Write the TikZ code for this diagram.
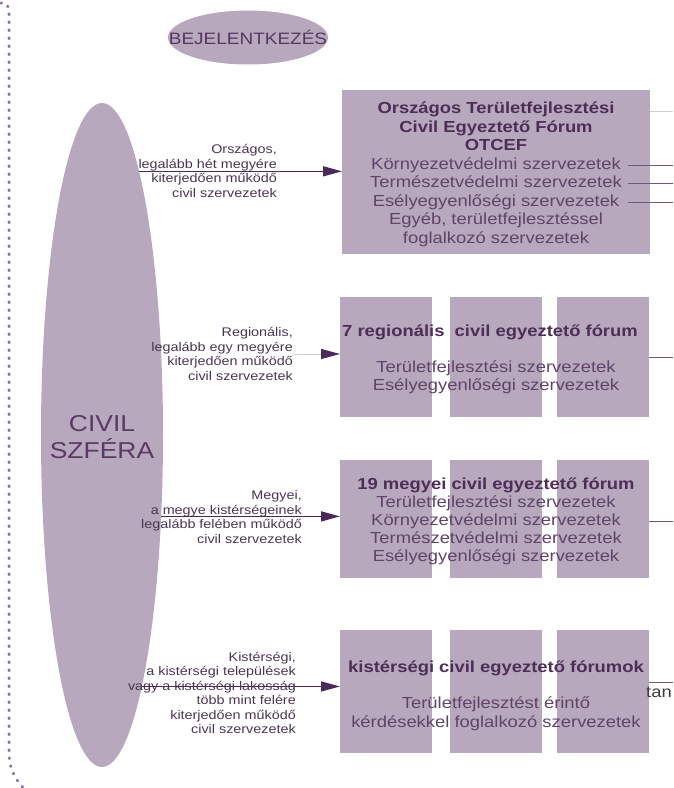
\documentclass[tikz,border=0pt]{standalone}
\usepackage{fontspec}
\setmainfont{Liberation Sans}[FakeStretch=1.15]
\usetikzlibrary{shapes.geometric,arrows.meta,calc}
\definecolor{mauve}{RGB}{183,168,189}
\definecolor{txtc}{RGB}{95,68,105}
\definecolor{ttlc}{RGB}{76,46,86}
\definecolor{lblc}{RGB}{72,55,82}
\definecolor{arrc}{RGB}{75,40,90}
\definecolor{dotc}{RGB}{140,110,168}
\definecolor{thinc}{RGB}{110,90,118}
\definecolor{faintc}{RGB}{212,205,215}
\newcommand{\tl}[1]{\textbf{\color{ttlc}#1}}
\begin{document}
\begin{tikzpicture}[x=1pt,y=-1pt,
  blk/.style={rectangle,fill=mauve,draw=none,inner sep=0pt,outer sep=0pt,minimum width=92pt,minimum height=#1},
  boxtext/.style={align=center,text=txtc,inner sep=0pt,font=\fontsize{16}{18.5}\selectfont},
  lbl/.style={anchor=east,align=right,text=lblc,inner sep=0pt,font=\fontsize{12.5}{14.5}\selectfont},
  arrline/.style={draw=arrc,line width=1.3pt,-{Triangle[length=19pt,width=10pt]}},
  thinline/.style={draw=thinc,line width=0.8pt},
  frame/.style={draw=dotc,line width=3pt,line cap=round,dash pattern=on 0.6pt off 7.4pt}]
\useasboundingbox (0,0) rectangle (673,788);

% dotted frame
\draw[frame] (1,3) .. controls (7,2) and (9,6) .. (9,14) -- (9,752) .. controls (9,770) and (16,782) .. (30,794);

% ellipses
\node[ellipse,fill=mauve,inner sep=0pt,outer sep=0pt,minimum width=160pt,minimum height=54pt] (bej) at (248,37.5) {};
\node[inner sep=0pt,text={rgb,255:red,85;green,55;blue,95},font=\fontsize{16.5}{19}\selectfont] (bejt) at (bej.center) {BEJELENTKEZÉS};
\node[ellipse,fill=mauve,inner sep=0pt,outer sep=0pt,minimum width=122pt,minimum height=664pt] (civ) at (102,435) {};
\node[inner sep=0pt,text={rgb,255:red,90;green,58;blue,100},align=center,font=\fontsize{23}{27}\selectfont] (civt) at (102,437) {CIVIL\\SZFÉRA};

% row 1
\node[blk=164pt,minimum width=308pt] (b1) at (496,172) {};
\node[boxtext] (t1) at (496,174.5) {\tl{Országos Területfejlesztési}\\\tl{Civil Egyeztető Fórum}\\\tl{OTCEF}\\
  Környezetvédelmi szervezetek\\Természetvédelmi szervezetek\\Esélyegyenlőségi szervezetek\\
  Egyéb, területfejlesztéssel\\foglalkozó szervezetek};

% row 2
\node[blk=120pt] (b2a) at (386,357) {};
\node[blk=120pt] (b2b) at (496,357) {};
\node[blk=120pt] (b2c) at (603,357) {};
\node[boxtext] (t2a) at (490,332) {\tl{7 regionális\ \ civil egyeztető fórum}};
\node[boxtext] (t2b) at (496,377.5) {Területfejlesztési szervezetek\\Esélyegyenlőségi szervezetek};

% row 3
\node[blk=118pt] (b3a) at (386,519) {};
\node[blk=118pt] (b3b) at (496,519) {};
\node[blk=118pt] (b3c) at (603,519) {};
\node[boxtext,font=\fontsize{16}{18}\selectfont] (t3) at (496,521) {\tl{19 megyei civil egyeztető fórum}\\Területfejlesztési szervezetek\\
  Környezetvédelmi szervezetek\\Természetvédelmi szervezetek\\Esélyegyenlőségi szervezetek};

% row 4
\node[blk=123pt] (b4a) at (386,691.5) {};
\node[blk=123pt] (b4b) at (496,691.5) {};
\node[blk=123pt] (b4c) at (603,691.5) {};
\node[boxtext] (t4a) at (496,668) {\tl{kistérségi civil egyeztető fórumok}};
\node[boxtext] (t4b) at (496,714) {Területfejlesztést érintő\\kérdésekkel foglalkozó szervezetek};

% labels
\node[lbl] (l1) at (277,171) {Országos,\\legalább hét megyére\\kiterjedően működő\\civil szervezetek};
\node[lbl] (l2) at (293,354) {Regionális,\\legalább egy megyére\\kiterjedően működő\\civil szervezetek};
\node[lbl] (l3) at (302,517) {Megyei,\\a megye kistérségeinek\\legalább felében működő\\civil szervezetek};
\node[lbl] (l4) at (296,693) {Kistérségi,\\a kistérségi települések\\vagy a kistérségi lakosság\\több mint felére\\kiterjedően működő\\civil szervezetek};

% arrows
\draw[arrline] (civ.82.19) -- (civ.82.19 -| b1.west);
\coordinate (c2) at (294,354);
\draw[draw=faintc,line width=1pt,-{Triangle[length=19pt,width=10pt,color=arrc]}] (c2) -- (c2 -| b2a.west);
\draw[arrline] (civ.-54.57) -- (civ.-54.57 -| b3a.west);
\draw[arrline] (civ.-81.37) -- (civ.-81.37 -| b4a.west);

% right-side lines
\coordinate (r1a) at (628,165);
\coordinate (r1b) at (628,183);
\coordinate (r1c) at (628,202);
\coordinate (redge) at (673,0);
\draw[draw=faintc,line width=0.8pt] ([yshift=61pt]b1.east) -- ([yshift=61pt]b1.east -| redge);
\draw[thinline] (r1a) -- (r1a -| redge);
\draw[thinline] (r1b) -- (r1b -| redge);
\draw[thinline] (r1c) -- (r1c -| redge);
\draw[thinline] (b2c.east) -- (b2c.east -| redge);
\draw[thinline] ([yshift=-2pt]b3c.east) -- ([yshift=-2pt]b3c.east -| redge);
\draw[thinline] ([yshift=9.5pt]b4c.east) -- ([yshift=9.5pt]b4c.east -| redge);
\node[anchor=west,inner sep=0pt,text={rgb,255:red,60;green,60;blue,60},font=\fontsize{16}{18}\selectfont] (tan) at (646,692) {tan};
\end{tikzpicture}
\end{document}
